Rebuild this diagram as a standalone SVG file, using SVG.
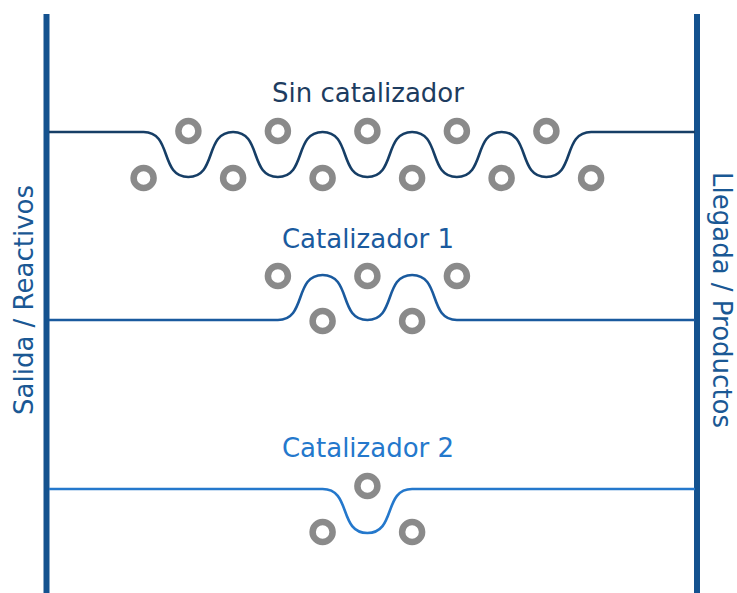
<svg xmlns="http://www.w3.org/2000/svg" width="737" height="593" viewBox="0 0 737 593">
  <style>
    .rail { stroke: #14528f; stroke-width: 6; fill: none; }
    .path { fill: none; stroke-width: 2.6; }
    .ring { fill: none; stroke: #8a8a8a; stroke-width: 6.5; }
    .lbl { font-family: "DejaVu Sans", Verdana, sans-serif; font-size: 26px; text-anchor: middle; }
  </style>

  <rect width="737" height="593" fill="#ffffff"/>

  <!-- start / end rails -->
  <g id="rail-start">
    <line class="rail" x1="46.5" y1="14" x2="46.5" y2="593"/>
    <text class="lbl" fill="#1a5894" transform="translate(33,300) rotate(-90)">Salida / Reactivos</text>
  </g>
  <g id="rail-end">
    <line class="rail" x1="697" y1="14" x2="697" y2="593"/>
    <text class="lbl" fill="#1a5894" transform="translate(713,300) rotate(90)">Llegada / Productos</text>
  </g>

  <!-- reaction pathways -->
  <g id="connectors">
    <path class="path" stroke="#163e66" d="M49,132 H143.6
      c29,0 15.75,45 44.75,45 c29,0 15.75,-45 44.75,-45
      c29,0 15.75,45 44.75,45 c29,0 15.75,-45 44.75,-45
      c29,0 15.75,45 44.75,45 c29,0 15.75,-45 44.75,-45
      c29,0 15.75,45 44.75,45 c29,0 15.75,-45 44.75,-45
      c29,0 15.75,45 44.75,45 c29,0 15.75,-45 44.75,-45 H695"/>
    <path class="path" stroke="#1a5a9e" d="M49,320 H277.9
      c29,0 15.75,-45 44.75,-45 c29,0 15.75,45 44.75,45
      c29,0 15.75,-45 44.75,-45 c29,0 15.75,45 44.75,45 H695"/>
    <path class="path" stroke="#2478cc" d="M49,489 H322.6
      c29,0 15.75,44 44.75,44 c29,0 15.75,-44 44.75,-44 H695"/>
  </g>

  <g id="sin-catalizador">
    <text class="lbl" fill="#1d3c60" x="368" y="102">Sin catalizador</text>
    <circle class="ring" cx="188.4" cy="131" r="10"/>
    <circle class="ring" cx="277.9" cy="131" r="10"/>
    <circle class="ring" cx="367.4" cy="131" r="10"/>
    <circle class="ring" cx="456.9" cy="131" r="10"/>
    <circle class="ring" cx="546.4" cy="131" r="10"/>
    <circle class="ring" cx="143.6" cy="178" r="10"/>
    <circle class="ring" cx="233.1" cy="178" r="10"/>
    <circle class="ring" cx="322.6" cy="178" r="10"/>
    <circle class="ring" cx="412.1" cy="178" r="10"/>
    <circle class="ring" cx="501.6" cy="178" r="10"/>
    <circle class="ring" cx="591.1" cy="178" r="10"/>
  </g>

  <g id="catalizador-1">
    <text class="lbl" fill="#1a5a9e" x="368" y="248">Catalizador 1</text>
    <circle class="ring" cx="277.9" cy="276" r="10"/>
    <circle class="ring" cx="367.4" cy="276" r="10"/>
    <circle class="ring" cx="456.9" cy="276" r="10"/>
    <circle class="ring" cx="322.6" cy="321" r="10"/>
    <circle class="ring" cx="412.1" cy="321" r="10"/>
  </g>

  <g id="catalizador-2">
    <text class="lbl" fill="#2478cc" x="368" y="457">Catalizador 2</text>
    <circle class="ring" cx="367.4" cy="486" r="10"/>
    <circle class="ring" cx="322.6" cy="532" r="10"/>
    <circle class="ring" cx="412.1" cy="532" r="10"/>
  </g>
</svg>
